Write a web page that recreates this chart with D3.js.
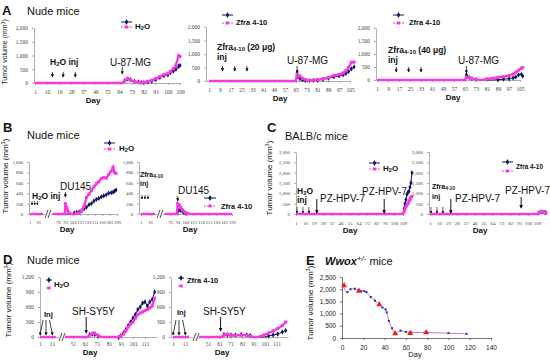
<!DOCTYPE html>
<html>
<head>
<meta charset="utf-8">
<script src="https://cdn.jsdelivr.net/npm/d3@7"></script>
<style>
  body { margin: 0; background: #fff; }
  svg text { font-family: "Liberation Sans", Arial, sans-serif; fill: #111; }
  .ax .tick text { font-family: "Liberation Serif", serif; font-size: 5.5px; fill: #444; }
  .ax path.domain, .ax .tick line { stroke: #999; stroke-width: 0.8; }
  .axe .tick text { font-family: "Liberation Sans", Arial, sans-serif; font-size: 6.5px; fill: #222; }
  .axe path.domain, .axe .tick line { stroke: #555; stroke-width: 0.8; }
</style>
</head>
<body>
<svg id="fig" width="550" height="362"></svg>
<script>
// ---- data ----
// A: U-87-MG
var aTicksX1 = [1, 10, 19, 28, 37, 46, 55, 64, 73, 82, 91, 100, 109];
var aTicksX2 = [1, 9, 17, 25, 33, 41, 49, 57, 65, 73, 81, 89, 97, 105];
var aTicksY = [0, 500, 1000, 1500, 2000];
var a1Day = [1, 30, 66, 68, 70, 72, 75, 78, 80, 82, 85, 88, 91, 94, 97, 100, 102, 104, 106, 108, 109];
var a1Navy = [0, 0, 0, 90, 150, 120, 60, 40, 20, 10, 30, 60, 120, 200, 260, 300, 380, 430, 500, 600, 640];
var a1Pink = [0, 0, 0, 100, 160, 110, 50, 30, 10, 20, 60, 100, 160, 230, 300, 340, 420, 520, 650, 1000, 960];
var a2Day = [1, 30, 65, 66, 68, 70, 72, 75, 78, 81, 85, 89, 93, 97, 100, 102, 104, 106, 108];
var a2Navy = [0, 0, 0, 150, 80, 40, 20, 10, 20, 30, 60, 100, 150, 190, 230, 280, 350, 450, 520];
var a2Pink = [0, 0, 0, 260, 180, 100, 50, 20, 30, 50, 80, 130, 200, 240, 300, 380, 500, 700, 700];
var a3Day = [1, 30, 65, 66, 68, 70, 73, 77, 81, 85, 89, 93, 97, 100, 102, 104, 106, 107];
var a3Navy = [0, 0, 0, 200, 100, 50, 20, 0, 0, 0, 10, 30, 50, 80, 120, 200, 220, 150];
var a3Pink = [0, 0, 0, 100, 80, 50, 20, 0, 40, 70, 100, 130, 170, 230, 300, 380, 450, 480];
var a1Inj = [14, 22, 31], a2Inj = [11, 20, 29], a3Inj = [15, 24, 33];
var aCellDay = 66;

// B: DU145 (axis broken between day 16 and 76)
var bTicksX = [1, 16, 76, 91, 106, 121, 136, 151, 166, 181, 196];
var bTicksY = [0, 200, 400, 600, 800, 1000];
var b1Day = [1, 16, 30, 45, 60, 76, 90, 91, 94, 96, 99, 104, 109, 114, 119, 124, 129, 134, 139, 144, 149, 154, 159, 164, 169, 174, 179, 184, 188, 191, 194];
var b1Navy = [0, 0, 0, null, 0, 0, 0, 0, 0, 0, 0, 0, 20, 30, 40, 60, 100, 130, 180, 200, 250, 280, 300, 330, 350, 370, 400, 410, 420, 440, 460];
var b1Pink = [0, 0, 0, null, 0, 0, 0, 200, 120, 60, 20, 0, 0, 10, 20, 60, 150, 320, 380, 450, 520, 580, 620, 680, 700, 690, 760, 820, 900, 800, 780];
var b2Day = [1, 16, 30, 45, 60, 76, 89, 91, 94, 97, 100, 103, 107, 111, 117, 121, 196];
var b2Navy = [0, 0, 0, null, 0, 0, 0, 0, 80, 70, 50, 30, 10, 0, 0, 0, 0];
var b2Pink = [0, 0, 0, null, 0, 0, 0, 200, 170, 120, 80, 50, 20, 5, 0, 0, 0];
var bCellDay = 91;

// C: PZ-HPV-7
var cTicksX = [1, 10, 19, 28, 37, 46, 55, 64, 73, 82, 91, 100, 109];
var cTicksY = [0, 500, 1000, 1500, 2000, 2500, 3000];
var c1Day = [1, 50, 109, 110, 111, 112, 113, 114, 115, 116, 117, 118];
var c1Navy = [0, 0, 0, 250, 500, 700, 950, 1050, 1100, 1300, 1500, 2000];
var c1Pink = [0, 0, 0, 100, 250, 350, 450, 500, 600, 700, 800, 850];
var c2Day = [1, 50, 109, 111, 113, 115, 117, 118];
var c2Navy = [0, 0, 0, 50, 100, 90, 80, 70];
var c2Pink = [0, 0, 0, 60, 110, 80, 60, 50];
var cInj = [2, 8, 14];
var c1Cell = [22, 90], c2Cell = [22, 93];

// D: SH-SY5Y (axis broken between day 11 and 51)
var dTicksX = [1, 11, 51, 61, 71, 81, 91, 101, 111];
var dTicksY = [0, 300, 600, 900, 1200];
var d1Day = [1, 11, 18, 24, 34, 51, 61, 63, 65, 67, 69, 72, 75, 80, 85, 88, 89, 91, 93, 95, 97, 99, 101, 103, 105, 107, 109, 111, 113, 115, 117, 119];
var d1Navy = [0, 0, 0, null, 0, 0, 0, 0, 50, 60, 50, 20, 0, 0, 0, 0, -10, 30, 80, 150, 230, 300, 380, 450, 550, 600, 680, 700, 620, 700, 750, 900];
var d1Pink = [0, 0, 0, null, 0, 0, 0, 0, 40, 70, 80, 30, 0, 0, 0, 0, 0, 20, 60, 120, 200, 260, 300, 380, 450, 480, 500, 530, 550, 580, 620, 780];
var d2Day = [1, 11, 18, 24, 34, 51, 61, 63, 65, 68, 71, 75, 80, 85, 88, 90, 95, 100, 104, 108, 112, 116, 119];
var d2Navy = [0, 0, 0, null, 0, 0, 0, 0, 50, 40, 40, 40, 50, 40, 30, 0, 0, 0, 20, 40, 60, 100, 130];
var d2Pink = [0, 0, 0, null, 0, 0, 0, 0, 40, 60, 30, 30, 40, 30, 20, 0, 0, 40, 80, 120, 170, 230, 300];
var dInj = [1, 6, 12];
var dCellDay = 62;

// E: Wwox+/- mice
var eTicksX = [0, 20, 40, 60, 80, 100, 120, 140];
var eTicksY = [0, 500, 1000, 1500, 2000, 2500];
var eDay = [1, 5, 8, 12, 15, 18, 21, 23, 27, 31, 35, 38, 41, 42, 44, 47, 50, 55, 60, 65, 80, 100, 117];
var eVol = [2150, 1880, 2000, 2020, 1950, 1920, 1920, 1880, 1680, 1530, 1380, 1250, 1170, 1050, 700, 400, 200, 300, 250, 230, 220, 200, 170];
var eTriDay = [2, 16, 35, 50, 64, 79];
var eTriVol = [2150, 1930, 1370, 180, 190, 230];

var NAVY = "#14145e", PINK = "#f53ae0";

var svg = d3.select("#fig");

var defs = svg.append("defs");
defs.append("marker").attr("id", "ah")
  .attr("viewBox", "0 0 6 6").attr("refX", 5).attr("refY", 3)
  .attr("markerWidth", 4).attr("markerHeight", 4).attr("orient", "auto")
  .append("path").attr("d", "M0,0L6,3L0,6Z").attr("fill", "#111");

function txt(x, y, s, size, weight) {
  return svg.append("text").attr("x", x).attr("y", y)
    .style("font-size", size + "px").style("font-weight", weight || "normal").text(s);
}

// text with a small lowered part, e.g. H2O or Zfra4-10
function subTxt(x, y, a, b, c, size, weight) {
  var t = svg.append("text").attr("x", x).attr("y", y)
    .style("font-size", size + "px").style("font-weight", weight || "normal");
  t.append("tspan").text(a);
  t.append("tspan").attr("dy", size * 0.15).style("font-size", (size * 0.7) + "px").text(b);
  t.append("tspan").attr("dy", -size * 0.15).text(c);
  return t;
}

function yLabel(x, y, size) {
  var t = svg.append("text").attr("transform", "translate(" + x + "," + y + ") rotate(-90)")
    .attr("text-anchor", "middle").style("font-size", size + "px");
  t.append("tspan").text("Tumor volume (mm");
  t.append("tspan").attr("dy", -size * 0.35).style("font-size", (size * 0.7) + "px").text("3");
  t.append("tspan").attr("dy", size * 0.35).text(")");
}

function arrow(x1, y1, x2, y2, w) {
  svg.append("line").attr("x1", x1).attr("y1", y1).attr("x2", x2).attr("y2", y2)
    .attr("stroke", "#111").attr("stroke-width", w || 1).attr("marker-end", "url(#ah)");
}

function subplot(o) {
  var x = d3.scaleLinear().domain(o.xd).range(o.xr);
  var y = d3.scaleLinear().domain(o.yd).range(o.yr);
  var base = o.yr[0];
  var gx = svg.append("g").attr("class", o.cls || "ax")
    .attr("transform", "translate(0," + base + ")")
    .call(d3.axisBottom(x).tickValues(o.xt).tickSize(2).tickPadding(o.pad || 5).tickSizeOuter(0));
  var gy = svg.append("g").attr("class", o.cls || "ax")
    .attr("transform", "translate(" + o.yAxisX + ",0)")
    .call(d3.axisLeft(y).tickValues(o.yt).tickSize(2).tickPadding(4).tickSizeOuter(0));
  if (o.tf) {
    gx.selectAll(".tick text").style("font-size", o.tf + "px");
    gy.selectAll(".tick text").style("font-size", o.tf + "px");
  }
  if (o.yAxisX < o.xr[0]) {
    svg.append("line").attr("x1", o.yAxisX).attr("x2", o.xr[0]).attr("y1", base).attr("y2", base)
      .attr("stroke", "#999").attr("stroke-width", 0.8);
  }
  return { x: x, y: y };
}

function series(s, days, vals, color, kind) {
  var pts = days.map(function (d, i) { return { d: d, v: vals[i] }; });
  var line = d3.line()
    .defined(function (p) { return p.v !== null; })
    .x(function (p) { return s.x(p.d); })
    .y(function (p) { return s.y(p.v); });
  svg.append("path").datum(pts).attr("d", line).attr("fill", "none")
    .attr("stroke", color).attr("stroke-width", kind === "sq" ? 2.4 : 1);
  var ok = pts.filter(function (p) { return p.v !== null && p.v !== 0; });
  if (kind === "sq") {
    svg.selectAll(null).data(ok).enter().append("rect")
      .attr("x", function (p) { return s.x(p.d) - 1.5; })
      .attr("y", function (p) { return s.y(p.v) - 1.5; })
      .attr("width", 3).attr("height", 3).attr("fill", color);
  } else {
    svg.selectAll(null).data(ok).enter().append("path")
      .attr("transform", function (p) { return "translate(" + s.x(p.d) + "," + s.y(p.v) + ")"; })
      .attr("d", d3.symbol(d3.symbolDiamond, 8)).attr("fill", color);
  }
}

function legend(x, y1, y2, w) {
  svg.append("line").attr("x1", x).attr("x2", x + w).attr("y1", y1).attr("y2", y1)
    .attr("stroke", NAVY).attr("stroke-width", 1);
  svg.append("path").attr("transform", "translate(" + (x + w / 2) + "," + y1 + ")")
    .attr("d", d3.symbol(d3.symbolDiamond, 10)).attr("fill", NAVY);
  svg.append("line").attr("x1", x).attr("x2", x + w).attr("y1", y2).attr("y2", y2)
    .attr("stroke", PINK).attr("stroke-width", 1.2).attr("stroke-dasharray", "2,1");
  svg.append("rect").attr("x", x + w / 2 - 1.5).attr("y", y2 - 1.5)
    .attr("width", 3).attr("height", 3).attr("fill", PINK);
}

function axisBreak(x, y) {
  svg.append("rect").attr("x", x - 3).attr("y", y - 5).attr("width", 6).attr("height", 10).attr("fill", "#fff");
  [-1.5, 1.5].forEach(function (dx) {
    svg.append("line").attr("x1", x + dx - 1.5).attr("y1", y + 4).attr("x2", x + dx + 1.5).attr("y2", y - 4)
      .attr("stroke", "#222").attr("stroke-width", 0.8);
  });
}

function dayLabel(x, y) { txt(x, y, "Day", 8, "bold").attr("text-anchor", "middle"); }

// ================= A =================
txt(2, 15, "A", 13, "bold");
txt(27, 15, "Nude mice", 11);
yLabel(7, 52, 7);

var A1 = subplot({ xd: [1, 109], xr: [35, 180], yd: [0, 2000], yr: [83, 28], xt: aTicksX1, yt: aTicksY, yAxisX: 34 });
series(A1, a1Day, a1Navy, NAVY, "dia");
series(A1, a1Day, a1Pink, PINK, "sq");
legend(121, 22, 27, 11);
subTxt(135, 29, "H", "2", "O", 8, "bold");
subTxt(50, 65, "H", "2", "O inj", 8.5, "bold");
a1Inj.forEach(function (d) { arrow(A1.x(d), 72, A1.x(d), 77, 0.8); });
txt(110, 66, "U-87-MG", 10);
arrow(A1.x(aCellDay), 67, A1.x(aCellDay), 74, 0.8);
dayLabel(93, 103);

var A2 = subplot({ xd: [1, 105], xr: [209, 350], yd: [0, 2000], yr: [81, 27], xt: aTicksX2, yt: aTicksY, yAxisX: 206 });
series(A2, a2Day, a2Navy, NAVY, "dia");
series(A2, a2Day, a2Pink, PINK, "sq");
legend(222, 15, 23, 11);
txt(236, 25, "Zfra 4-10", 7.5, "bold");
subTxt(217, 50, "Zfra", "4-10", " (20 \u03bcg)", 8.5, "bold");
txt(217, 60, "inj", 8.5, "bold");
a2Inj.forEach(function (d) { arrow(A2.x(d), 66, A2.x(d), 71, 0.8); });
txt(287, 64, "U-87-MG", 10);
arrow(A2.x(aCellDay), 66, A2.x(aCellDay), 73, 0.8);
dayLabel(280, 101);

var A3 = subplot({ xd: [1, 105], xr: [377, 520], yd: [0, 2000], yr: [80, 28], xt: aTicksX2, yt: aTicksY, yAxisX: 376 });
series(A3, a3Day, a3Navy, NAVY, "dia");
series(A3, a3Day, a3Pink, PINK, "sq");
legend(393, 15, 23, 11);
txt(409, 25, "Zfra 4-10", 7.5, "bold");
subTxt(388, 53, "Zfra", "4-10", " (40 \u03bcg)", 8.5, "bold");
txt(388, 63, "inj", 8.5, "bold");
a3Inj.forEach(function (d) { arrow(A3.x(d), 67, A3.x(d), 72, 0.8); });
txt(458, 64, "U-87-MG", 10);
arrow(A3.x(aCellDay), 66, A3.x(aCellDay), 73, 0.8);
dayLabel(453, 100);

// ================= B =================
txt(3, 132, "B", 13, "bold");
txt(27, 139, "Nude mice", 11);
yLabel(8, 176, 8);

var B1 = subplot({ xd: [1, 16, 76, 196], xr: [30, 38, 58, 117], yd: [0, 1000], yr: [214, 162], xt: bTicksX, yt: bTicksY, yAxisX: 29, tf: 4.6 });
series(B1, b1Day, b1Navy, NAVY, "dia");
series(B1, b1Day, b1Pink, PINK, "sq");
axisBreak(48, 214);
legend(104, 143, 149, 11);
subTxt(119, 151, "H", "2", "O", 8, "bold");
subTxt(32, 199, "H", "2", "O inj", 8.5, "bold");
[1, 6, 11].forEach(function (d) { arrow(B1.x(d) + 2, 201, B1.x(d) + 2, 205, 0.7); });
txt(60, 190, "DU145", 10);
arrow(B1.x(bCellDay), 192, B1.x(bCellDay), 197, 0.8);
dayLabel(67, 232);

var B2 = subplot({ xd: [1, 16, 76, 196], xr: [141, 150, 170, 232], yd: [0, 1000], yr: [214, 162], xt: bTicksX, yt: bTicksY, yAxisX: 139, tf: 4.6 });
series(B2, b2Day, b2Navy, NAVY, "dia");
series(B2, b2Day, b2Pink, PINK, "sq");
axisBreak(160, 214);
subTxt(140, 177, "Zfra", "4-10", "", 7, "bold");
txt(140, 186, "inj", 7, "bold");
[1, 6, 11].forEach(function (d) { arrow(B2.x(d) + 1, 195, B2.x(d) + 1, 199, 0.7); });
txt(178, 194, "DU145", 10);
arrow(B2.x(bCellDay), 196, B2.x(bCellDay), 201, 0.8);
legend(204, 198, 206, 12);
txt(221, 209, "Zfra 4-10", 7.5, "bold");
dayLabel(190, 232);

// ================= C =================
txt(267, 132, "C", 13, "bold");
txt(285, 140, "BALB/c mice", 11);
yLabel(272, 178, 8);

var C1 = subplot({ xd: [1, 109], xr: [296, 403], yd: [0, 3000], yr: [214, 152], xt: cTicksX, yt: cTicksY, yAxisX: 296, tf: 5 });
series(C1, c1Day, c1Navy, NAVY, "dia");
series(C1, c1Day, c1Pink, PINK, "sq");
legend(369, 163, 169, 11);
subTxt(383, 171, "H", "2", "O", 8, "bold");
subTxt(297, 194, "H", "2", "O", 8.5, "bold");
txt(297, 203, "inj", 8.5, "bold");
cInj.forEach(function (d) { arrow(C1.x(d), 207, C1.x(d), 213, 0.7); });
txt(320, 202, "PZ-HPV-7", 10);
arrow(C1.x(c1Cell[0]), 199, C1.x(c1Cell[0]), 213, 1);
txt(362, 195, "PZ-HPV-7", 10);
arrow(C1.x(c1Cell[1]), 199, C1.x(c1Cell[1]), 213, 1);
dayLabel(350, 233);

var C2 = subplot({ xd: [1, 109], xr: [430, 537], yd: [0, 3000], yr: [214, 152], xt: cTicksX, yt: cTicksY, yAxisX: 429, tf: 5 });
series(C2, c2Day, c2Navy, NAVY, "dia");
series(C2, c2Day, c2Pink, PINK, "sq");
legend(502, 162, 171, 11);
txt(516, 169, "Zfra 4-10", 6.5, "bold");
subTxt(432, 189, "Zfra", "4-10", "", 7, "bold");
txt(432, 199, "inj", 7, "bold");
cInj.forEach(function (d) { arrow(C2.x(d), 207, C2.x(d), 213, 0.7); });
txt(455, 202, "PZ-HPV-7", 10);
arrow(C2.x(c2Cell[0]), 199, C2.x(c2Cell[0]), 213, 1);
txt(505, 194, "PZ-HPV-7", 10);
arrow(C2.x(c2Cell[1]), 197, C2.x(c2Cell[1]), 208, 1);
dayLabel(480, 233);

// ================= D =================
txt(3, 264, "D", 13, "bold");
txt(27, 264, "Nude mice", 11);
yLabel(11, 300, 8);

var D1 = subplot({ xd: [1, 11, 51, 121], xr: [40, 52, 73, 157], yd: [0, 1200], yr: [337, 277], xt: dTicksX, yt: dTicksY, yAxisX: 40, pad: 3 });
series(D1, d1Day, d1Navy, NAVY, "dia");
series(D1, d1Day, d1Pink, PINK, "sq");
axisBreak(62, 337);
legend(46, 280, 288, 6);
subTxt(54, 287, "H", "2", "O", 8, "bold");
txt(44, 317, "Inj", 7.5, "bold");
// three slanted injection arrows: / | \
[[3, dInj[0]], [0, dInj[1]], [-3, dInj[2]]].forEach(function (p) { arrow(D1.x(p[1]) + p[0], 320, D1.x(p[1]), 335, 0.8); });
txt(72, 315, "SH-SY5Y", 10);
arrow(D1.x(dCellDay), 317, D1.x(dCellDay), 333, 1);
dayLabel(90, 355);

var D2 = subplot({ xd: [1, 11, 51, 121], xr: [173, 185, 208, 288], yd: [0, 1200], yr: [337, 277], xt: dTicksX, yt: dTicksY, yAxisX: 171, pad: 3 });
series(D2, d2Day, d2Navy, NAVY, "dia");
series(D2, d2Day, d2Pink, PINK, "sq");
axisBreak(196, 337);
legend(178, 278, 286, 6);
txt(187, 283, "Zfra 4-10", 7.5, "bold");
txt(177, 315, "Inj", 7.5, "bold");
[[3, dInj[0]], [0, dInj[1]], [-3, dInj[2]]].forEach(function (p) { arrow(D2.x(p[1]) + p[0], 320, D2.x(p[1]), 335, 0.8); });
txt(203, 315, "SH-SY5Y", 10);
arrow(D2.x(dCellDay), 317, D2.x(dCellDay), 331, 1);
dayLabel(222, 355);

// ================= E =================
txt(306, 265, "E", 13, "bold");
var et = svg.append("text").attr("x", 325).attr("y", 265).style("font-size", "11px");
et.append("tspan").style("font-style", "italic").style("font-weight", "bold").text("Wwox");
et.append("tspan").attr("dy", -4).style("font-size", "8px").style("font-style", "italic").text("+/-");
et.append("tspan").attr("dy", 4).text(" mice");
yLabel(313, 303, 8);

var E = subplot({ xd: [0, 140], xr: [342, 491], yd: [0, 2500], yr: [338, 277], xt: eTicksX, yt: eTicksY, yAxisX: 342, cls: "axe" });
svg.append("path").datum(eDay.map(function (d, i) { return [d, eVol[i]]; }))
  .attr("d", d3.line().curve(d3.curveMonotoneX).x(function (p) { return E.x(p[0]); }).y(function (p) { return E.y(p[1]); }))
  .attr("fill", "none").attr("stroke", "#c878c8").attr("stroke-width", 1);
svg.selectAll(null).data(eDay).enter().append("rect")
  .attr("x", function (d) { return E.x(d) - 1; })
  .attr("y", function (d, i) { return E.y(eVol[i]) - 1; })
  .attr("width", 2).attr("height", 2).attr("fill", "#2828b8");
svg.selectAll(null).data(eTriDay).enter().append("path")
  .attr("transform", function (d, i) { return "translate(" + E.x(d) + "," + E.y(eTriVol[i]) + ")"; })
  .attr("d", d3.symbol(d3.symbolTriangle, 16)).attr("fill", "#f02020");
txt(415, 357, "Day", 7.5).attr("text-anchor", "middle");
</script>
</body>
</html>
